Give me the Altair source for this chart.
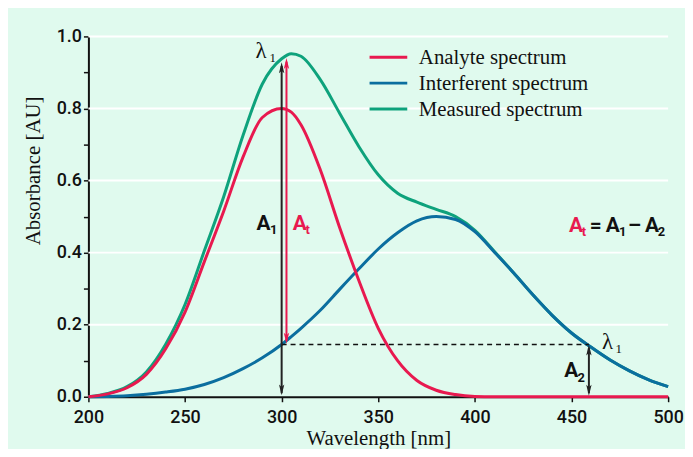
import altair as alt
import pandas as pd

# ---------------- data ----------------
wavelength = [200, 210, 220, 230, 240, 250, 260, 270, 280, 290, 300, 305, 310, 320, 330, 340,
              350, 360, 370, 380, 390, 400, 410, 420, 430, 440, 450, 460, 470, 480, 490, 500]
analyte = [0.000, 0.008, 0.025, 0.062, 0.133, 0.235, 0.375, 0.515, 0.665, 0.775, 0.800, 0.790,
           0.755, 0.630, 0.470, 0.322, 0.190, 0.100, 0.045, 0.018, 0.006, 0.001, 0.0, 0.0,
           0.0, 0.0, 0.0, 0.0, 0.0, 0.0, 0.0, 0.0]
interferent = [0.000, 0.001, 0.003, 0.007, 0.013, 0.021, 0.034, 0.053, 0.078, 0.108, 0.145, 0.167,
               0.190, 0.240, 0.298, 0.355, 0.410, 0.455, 0.488, 0.500, 0.492, 0.458, 0.402, 0.344,
               0.283, 0.226, 0.177, 0.138, 0.102, 0.072, 0.047, 0.028]
measured = [0.000, 0.009, 0.028, 0.069, 0.146, 0.256, 0.405, 0.555, 0.725, 0.868, 0.938, 0.952,
            0.945, 0.880, 0.787, 0.694, 0.616, 0.565, 0.540, 0.520, 0.500, 0.462, 0.404, 0.344,
            0.283, 0.226, 0.177, 0.138, 0.102, 0.072, 0.047, 0.028]

series_names = ["Analyte spectrum", "Interferent spectrum", "Measured spectrum"]
series_colors = ["#e8194f", "#0b6e9f", "#0ea27c"]

x_ticks = [200, 250, 300, 350, 400, 450, 500]
y_ticks = [0.0, 0.1, 0.2, 0.3, 0.4, 0.5, 0.6, 0.7, 0.8, 0.9, 1.0]
grid_vals = [0.2, 0.4, 0.6, 0.8, 1.0]

# annotation values (wavelength / absorbance)
lam1 = 300          # lambda_1 for measured spectrum
lam1_red = 302.5    # analyte arrow drawn just right of it
lam2 = 459          # wavelength where interferent equals A2
A1_val = 0.928
At_top = 0.940
A2_val = 0.145

# ---------------- styling ----------------
SERIF = "Liberation Serif, Times New Roman, serif"
NARROW = "Roboto, Liberation Sans, sans-serif"
INK = "#111111"
BG = "#e0faee"
RED = series_colors[0]

xs = alt.Scale(domain=[200, 500], nice=False, zero=False)
ys = alt.Scale(domain=[0, 1], nice=False)

x_axis = alt.Axis(values=x_ticks, format="d", title="Wavelength [nm]", grid=False,
                  domainColor=INK, domainWidth=2, tickColor=INK, tickWidth=1.5, tickSize=5,
                  labelFont=NARROW, labelFontSize=18, labelFontWeight=500, labelColor=INK,
                  labelPadding=7, labelFlush=False, titleFont=SERIF, titleFontSize=21,
                  titleFontWeight="normal", titleColor=INK, titlePadding=1)
y_axis = alt.Axis(values=y_ticks, title="Absorbance [AU]", grid=False,
                  labelExpr="round(datum.value*10) % 2 == 0 ? format(datum.value, '.1f') : ''",
                  domainColor=INK, domainWidth=2, tickColor=INK, tickWidth=1.5, tickSize=5,
                  labelFont=NARROW, labelFontSize=18, labelFontWeight=500, labelColor=INK,
                  labelPadding=2, titleFont=SERIF, titleFontSize=21, titleFontWeight="normal",
                  titleColor=INK, titleX=-45, titleY=135)


def X(field="x"):
    return alt.X(f"{field}:Q", scale=xs, axis=x_axis)


def Y(field="y"):
    return alt.Y(f"{field}:Q", scale=ys, axis=y_axis)


# ---------------- data tables ----------------
rows = []
for name, vals in zip(series_names, [analyte, interferent, measured]):
    for w, v in zip(wavelength, vals):
        rows.append({"x": w, "y": v, "series": name})
spec = pd.DataFrame(rows)

color = alt.Color("series:N", scale=alt.Scale(domain=series_names, range=series_colors), legend=None)

grid = alt.Chart(pd.DataFrame({"y": grid_vals})).mark_rule(color="white", strokeWidth=2).encode(y=Y())


def curve(name):
    return (alt.Chart(spec).transform_filter(alt.datum.series == name)
            .mark_line(strokeWidth=3, interpolate="monotone")
            .encode(x=X(), y=Y(), color=color))


lines = [curve(series_names[2]), curve(series_names[1]), curve(series_names[0])]


def vrule(x, y1, y2, col, dash=None, width=2):
    df = pd.DataFrame({"x": [x], "y": [y1], "y2": [y2]})
    kw = dict(color=col, strokeWidth=width)
    if dash:
        kw["strokeDash"] = dash
    return alt.Chart(df).mark_rule(**kw).encode(x=X(), y=Y(), y2="y2:Q")


def hrule(x1, x2, y, col, dash=None, width=1.5):
    df = pd.DataFrame({"x": [x1], "x2": [x2], "y": [y]})
    kw = dict(color=col, strokeWidth=width)
    if dash:
        kw["strokeDash"] = dash
    return alt.Chart(df).mark_rule(**kw).encode(x=X(), x2="x2:Q", y=Y())


UP = "M0,0L0.27,1.1L0,0.85L-0.27,1.1Z"
DOWN = "M0,0L0.27,-1.1L0,-0.85L-0.27,-1.1Z"


def head(x, y, col, shape):
    df = pd.DataFrame({"x": [x], "y": [y]})
    return (alt.Chart(df).mark_point(shape=shape, filled=True, size=400, color=col,
                                     opacity=1, strokeWidth=0)
            .encode(x=X(), y=Y()))


def txt(x, y, s, size, color=INK, font=SERIF, weight="normal", dx=0, dy=0):
    df = pd.DataFrame({"x": [x], "y": [y], "t": [s]})
    return (alt.Chart(df).mark_text(align="left", baseline="alphabetic", dx=dx, dy=dy,
                                    fontSize=size, font=font, fontWeight=weight, color=color)
            .encode(x=X(), y=Y(), text="t:N"))


annotations = [
    hrule(lam1, lam2, A2_val, INK, dash=[5, 4], width=1.5),
    vrule(lam1, 0.01, A1_val - 0.01, "#222222", width=2),
    vrule(lam1_red, A2_val + 0.01, At_top - 0.01, RED, width=2),
    vrule(lam2, 0.01, A2_val - 0.01, "#222222", width=2),
    head(lam1, A1_val, "#222222", UP),
    head(lam1, 0.004, "#222222", DOWN),
    head(lam1_red, At_top, RED, UP),
    head(lam1_red, A2_val + 0.002, RED, DOWN),
    head(lam2, A2_val, "#222222", UP),
    head(lam2, 0.003, "#222222", DOWN),
    # lambda labels
    txt(286.5, 0.939, "λ", 23),
    txt(286.5, 0.939, "1", 13, dx=14, dy=4),
    txt(465.8, 0.132, "λ", 23),
    txt(465.8, 0.132, "1", 13, dx=13.5, dy=3.5),
    # A1, At, A2 labels
    txt(287.0, 0.463, "A", 21, font=NARROW, weight="bold"),
    txt(287.0, 0.463, "1", 13, font=NARROW, weight="bold", dx=13.5, dy=4),
    txt(305.8, 0.463, "A", 21, color=RED, font=NARROW, weight="bold"),
    txt(305.8, 0.463, "t", 13, color=RED, font=NARROW, weight="bold", dx=12.8, dy=4),
    txt(446.2, 0.054, "A", 21, font=NARROW, weight="bold"),
    txt(446.2, 0.054, "2", 13, font=NARROW, weight="bold", dx=13.5, dy=4.5),
    # formula At = A1 - A2
    txt(448.7, 0.458, "A", 21, color=RED, font=NARROW, weight="bold"),
    txt(448.7, 0.458, "t", 13, color=RED, font=NARROW, weight="bold", dx=12.8, dy=4.5),
    txt(448.7, 0.458, "=", 21, font=NARROW, weight="bold", dx=21.0),
    txt(448.7, 0.458, "A", 21, font=NARROW, weight="bold", dx=37.0),
    txt(448.7, 0.458, "1", 13, font=NARROW, weight="bold", dx=50.3, dy=4.5),
    txt(448.7, 0.458, "–", 21, font=NARROW, weight="bold", dx=59.5),
    txt(448.7, 0.458, "A", 21, font=NARROW, weight="bold", dx=76.5),
    txt(448.7, 0.458, "2", 13, font=NARROW, weight="bold", dx=89.5, dy=4.5),
]

# ---------------- hand-drawn legend (in data coordinates) ----------------
leg_x1, leg_x2, leg_text_x = 345.5, 365.0, 371.0
leg_top, leg_step, leg_text_drop = 0.942, 0.0716, 0.019
legend_df = pd.DataFrame({
    "series": series_names,
    "x": [leg_x1] * 3,
    "x2": [leg_x2] * 3,
    "y": [leg_top - i * leg_step for i in range(3)],
    "ty": [leg_top - i * leg_step - leg_text_drop for i in range(3)],
})
legend_lines = alt.Chart(legend_df).mark_rule(strokeWidth=3).encode(
    x=X(), x2="x2:Q", y=Y(), color=color)
legend_text = alt.Chart(legend_df).mark_text(
    align="left", baseline="alphabetic", font=SERIF, fontSize=21, color=INK
).encode(x=alt.X("tx:Q", scale=xs, axis=x_axis), y=Y("ty"), text="series:N"
         ).transform_calculate(tx=str(leg_text_x))

chart = alt.layer(grid, *lines, *annotations, legend_lines, legend_text).properties(
    width=584, height=363,
    padding={"left": 81, "top": 27, "right": 17, "bottom": 51},
    autosize=alt.AutoSizeParams(type="none"),
).configure(background=BG).configure_view(strokeWidth=0)

chart.save("out.html", embed_options={"renderer": "svg", "actions": False})
